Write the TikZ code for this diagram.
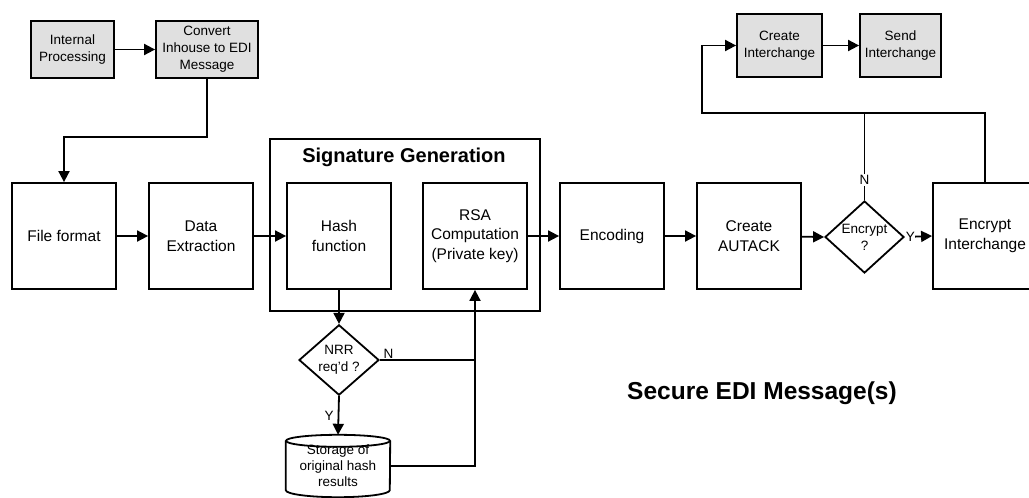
\documentclass[tikz,border=0pt]{standalone}
\usepackage{fontspec}
\setmainfont{Liberation Sans}
\usetikzlibrary{arrows.meta,shapes.geometric,calc}
\definecolor{procgray}{RGB}{224,224,224}

\begin{document}
\begin{tikzpicture}[x=1pt,y=-1pt,
  every node/.style={font=\fontsize{15.5}{19.5}\selectfont, align=center},
  box/.style={draw, line width=1.8pt, minimum width=104pt, minimum height=106pt, inner sep=0pt},
  gbox/.style={draw, line width=1.8pt, fill=procgray, inner sep=0pt, font=\fontsize{13.5}{17}\selectfont},
  dec/.style={diamond, draw, line width=1.8pt, inner sep=0pt, font=\fontsize{13.5}{17}\selectfont},
  lbl/.style={font=\fontsize{13.5}{16}\selectfont, inner sep=1pt},
  wire/.style={line width=1.8pt},
  flow/.style={line width=1.8pt, -{Triangle[length=11pt,width=11pt]}}]
  \useasboundingbox (0,0) rectangle (1029,498);
  \clip (0,0) rectangle (1029,498);

  % grey process boxes
  \node[gbox, minimum width=83pt, minimum height=57pt] (internal) at (72.5,49.5) {Internal\\Processing};
  \node[gbox, minimum width=102pt, minimum height=57pt] (convert) at (207,49.5) {Convert\\Inhouse to EDI\\Message};
  \node[gbox, minimum width=85pt, minimum height=63pt] (createic) at (779.5,45.5) {Create\\Interchange};
  \node[gbox, minimum width=81pt, minimum height=63pt] (sendic) at (900.5,45.5) {Send\\Interchange};

  % main chain
  \node[box] (file) at (64,236) {File format};
  \node[box] (extract) at (201,236) {Data\\Extraction};
  \node[draw, line width=1.8pt, minimum width=270pt, minimum height=172pt, inner sep=0pt] (sig) at (405,225) {};
  \node[font=\bfseries\fontsize{20}{24}\selectfont] (sigtitle) at (404,157) {Signature Generation};
  \node[box] (hash) at (339,236) {Hash\\function};
  \node[box] (rsa) at (475,236) {RSA\\Computation\\(Private key)};
  \node[box] (encode) at (612,236) {Encoding};
  \node[box] (autack) at (749,236) {Create\\AUTACK};
  \node[dec, minimum width=79pt, minimum height=68pt] (encq) at (864.5,237) {Encrypt\\?};
  \node[box] (encic) at (985,236) {Encrypt\\Interchange};

  \node[dec, minimum width=80pt, minimum height=70pt] (nrr) at (339,360) {NRR\\req'd ?};
  \node[minimum width=104pt, minimum height=62pt, inner sep=0pt, font=\fontsize{13.5}{16}\selectfont] (store) at (338,466) {Storage of\\original hash\\results};
  \draw[wire] ($(store.north)+(0,6)$) ellipse [x radius=52pt, y radius=6pt];
  \draw[wire] ($(store.north west)+(0,6)$) -- ($(store.south west)+(0,-7)$)
    arc [start angle=180, end angle=360, x radius=52pt, y radius=7pt] -- ($(store.north east)+(0,6)$);

  \node[font=\bfseries\fontsize{24.5}{28}\selectfont] (secure) at (762,393) {Secure EDI Message(s)};

  % connectors
  \draw[flow] (internal) -- (convert);
  \draw[flow] (convert.south) -- ++(0,58) -| (file.north);
  \draw[flow] (file) -- (extract);
  \draw[flow] (extract) -- (hash);
  \draw[flow] (rsa) -- (encode);
  \draw[flow] (encode) -- (autack);
  \draw[flow] (autack) -- (encq.west);
  \draw[flow] (encq.east) -- (encic.west) node[lbl, pos=0.2, fill=white, inner sep=0.5pt] {Y};
  \draw[flow] (createic) -- (sendic);

  \coordinate (loopc) at (702,113);
  \draw[flow] (encic.north) |- (loopc) |- (createic.west);
  \draw[wire] (encq.north) -- (encq.north |- loopc) node[lbl, pos=0.23, fill=white] {N};

  \draw[flow] (hash.south) -- (nrr.north);
  \draw[flow] (nrr.south) -- (store.north) node[lbl, midway, left=3pt] {Y};
  \draw[wire] (nrr.east) -- (nrr.east -| rsa.south) node[lbl, pos=0.02, anchor=south west] {N};
  \draw[flow] (store.east) -| (rsa.south);
\end{tikzpicture}
\end{document}
